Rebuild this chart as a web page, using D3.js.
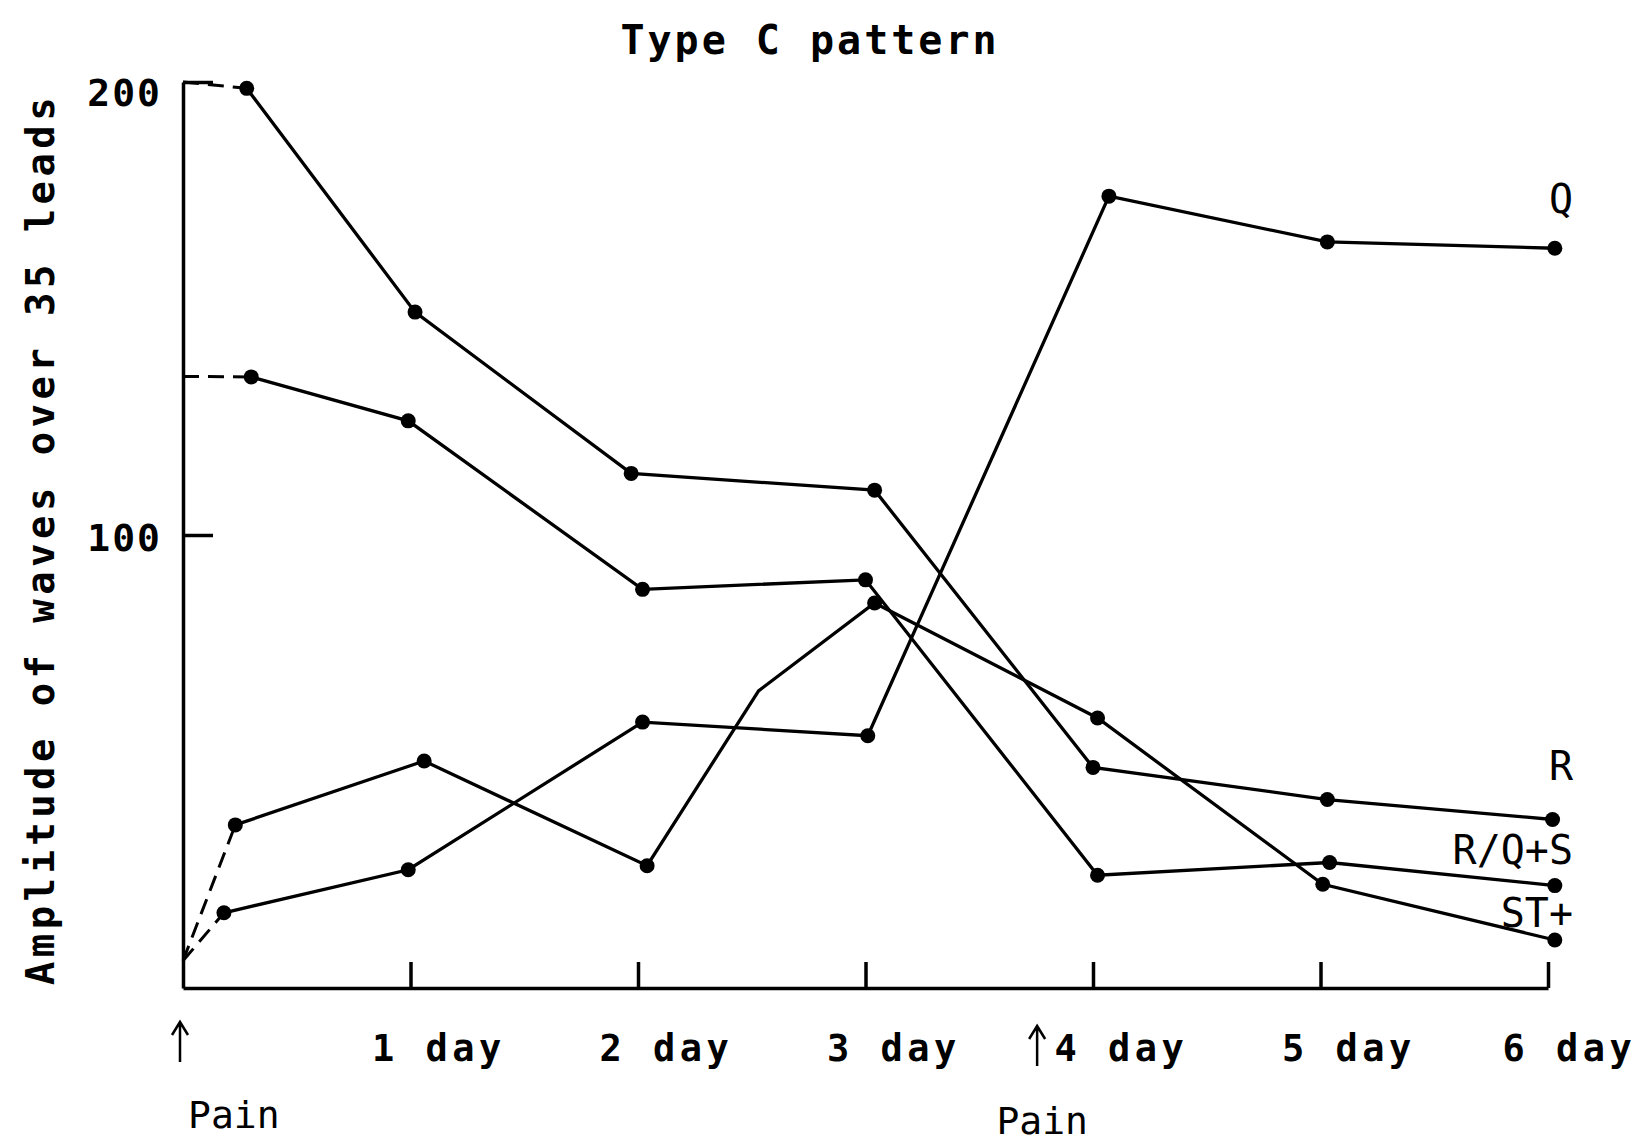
<!DOCTYPE html>
<html>
<head>
<meta charset="utf-8">
<script src="https://d3js.org/d3.v7.min.js"></script>
<style>
  body { margin: 0; background: #fff; }
  text { font-family: "DejaVu Sans Mono", monospace; fill: #000; }
</style>
</head>
<body>
<div id="chart"></div>
<script>
// series: day position and amplitude of each point
const seriesNames = ["R", "R/Q+S", "Q", "ST+"];
const rDays = [0.28, 1.02, 1.97, 3.04, 4.0, 5.03, 6.02];
const rValues = [198.6, 149.2, 113.6, 109.9, 48.7, 41.6, 37.2];
const rqsDays = [0.30, 0.99, 2.02, 3.0, 4.02, 5.04, 6.03];
const rqsValues = [134.9, 125.2, 88.0, 90.1, 24.9, 27.7, 22.6];
const qDays = [0.18, 0.99, 2.02, 3.01, 4.07, 5.03, 6.03];
const qValues = [16.6, 26.1, 58.7, 55.7, 174.8, 164.7, 163.3];
const stDays = [0.23, 1.06, 2.04, 2.53, 3.04, 4.02, 5.01, 6.03];
const stValues = [36.0, 50.1, 27.0, 65.6, 85.0, 59.6, 22.9, 10.6];
const stMarked = [true, true, true, false, true, true, true, true];
// dashed lead-in from the y axis (day 0) for each series
const leadInValues = [200, 135, 6, 6];

const dayTicks = [1, 2, 3, 4, 5, 6];
const dayLabels = ["1 day", "2 day", "3 day", "4 day", "5 day", "6 day"];
const valueTicks = [100, 200];
const painDays = [0, 3.75];

const width = 1642, height = 1148;

let svg = d3.select("#chart")
  .append("svg")
  .attr("width", width)
  .attr("height", height)
  .style("background", "#fff");

let x = d3.scaleLinear().domain([0, 6]).range([183, 1548]);
let y = d3.scaleLinear().domain([0, 200]).range([988, 82]);

let series = [
  {name: seriesNames[0], days: rDays, values: rValues},
  {name: seriesNames[1], days: rqsDays, values: rqsValues},
  {name: seriesNames[2], days: qDays, values: qValues},
  {name: seriesNames[3], days: stDays, values: stValues, marked: stMarked}
].map(function (s, i) {
  s.points = s.days.map(function (d, j) {
    return {day: d, value: s.values[j], marked: s.marked ? s.marked[j] : true};
  });
  s.leadIn = [{day: 0, value: leadInValues[i]}, s.points[0]];
  return s;
});

let line = d3.line()
  .x(function (d) { return x(d.day); })
  .y(function (d) { return y(d.value); });

// title
svg.append("text")
  .attr("x", 810)
  .attr("y", 54)
  .attr("text-anchor", "middle")
  .style("font-size", "40px")
  .style("font-weight", "bold")
  .style("letter-spacing", "3px")
  .text("Type C pattern");

// y axis title
svg.append("text")
  .attr("transform", "translate(54,539) rotate(-90)")
  .attr("text-anchor", "middle")
  .style("font-size", "39px")
  .style("font-weight", "bold")
  .style("letter-spacing", "4.4px")
  .text("Amplitude of waves over 35 leads");

// x axis, ticks point up into the plot
let xAxis = svg.append("g")
  .attr("transform", "translate(0," + y(0) + ")")
  .call(d3.axisBottom(x)
    .tickValues(dayTicks)
    .tickSizeInner(-26)
    .tickSizeOuter(0)
    .tickPadding(0)
    .tickFormat(function (d, i) { return dayLabels[i]; }));
xAxis.selectAll("text")
  .attr("text-anchor", "start")
  .attr("x", function (d) { return d === 6 ? -46 : -39; })
  .attr("y", 73)
  .attr("dy", null)
  .style("font-size", "37px")
  .style("font-weight", "bold")
  .style("letter-spacing", "4.5px");

// y axis, ticks point right into the plot
let yAxis = svg.append("g")
  .attr("transform", "translate(" + x(0) + ",0)")
  .call(d3.axisLeft(y)
    .tickValues(valueTicks)
    .tickSizeInner(-30)
    .tickSizeOuter(0)
    .tickPadding(21));
yAxis.selectAll("text")
  .attr("dy", function (d) { return d === 200 ? "0.62em" : "0.4em"; })
  .style("font-size", "38px")
  .style("font-weight", "bold")
  .style("letter-spacing", "2px");

svg.selectAll(".domain, .tick line")
  .attr("stroke", "#000")
  .attr("stroke-width", 3.5);

// dashed lead-ins
svg.append("g")
  .selectAll("path")
  .data(series)
  .enter()
  .append("path")
  .attr("d", function (d) { return line(d.leadIn); })
  .attr("fill", "none")
  .attr("stroke", "#000")
  .attr("stroke-width", 3)
  .attr("stroke-dasharray", "16,9");

// series lines
svg.append("g")
  .selectAll("path")
  .data(series)
  .enter()
  .append("path")
  .attr("d", function (d) { return line(d.points); })
  .attr("fill", "none")
  .attr("stroke", "#000")
  .attr("stroke-width", 3.3);

// dots
svg.append("g")
  .selectAll("g")
  .data(series)
  .enter()
  .append("g")
  .selectAll("circle")
  .data(function (d) { return d.points.filter(function (p) { return p.marked; }); })
  .enter()
  .append("circle")
  .attr("cx", function (d) { return x(d.day); })
  .attr("cy", function (d) { return y(d.value); })
  .attr("r", 7.5)
  .attr("fill", "#000");

// series labels at the right end
let labelDy = [-39, -22, -35, -13];
svg.append("g")
  .selectAll("text")
  .data(series)
  .enter()
  .append("text")
  .attr("x", 1573)
  .attr("y", function (d, i) {
    let last = d.points[d.points.length - 1];
    return y(last.value) + labelDy[i];
  })
  .attr("text-anchor", "end")
  .style("font-size", "40px")
  .text(function (d) { return d.name; });

// pain arrows
let arrows = svg.append("g")
  .selectAll("g")
  .data(painDays)
  .enter()
  .append("g")
  .attr("transform", function (d, i) {
    return "translate(" + (x(d) - 3 + i * 4) + "," + (1022 + i * 4) + ")";
  });
arrows.append("path")
  .attr("d", "M0,0 V40 M-8,13 L0,0 L8,13")
  .attr("fill", "none")
  .attr("stroke", "#000")
  .attr("stroke-width", 2.5);
arrows.append("text")
  .attr("x", function (d, i) { return i === 0 ? 8 : 5; })
  .attr("y", function (d, i) { return i === 0 ? 106 : 108; })
  .attr("text-anchor", function (d, i) { return i === 0 ? "start" : "middle"; })
  .style("font-size", "38px")
  .text("Pain");
</script>
</body>
</html>
